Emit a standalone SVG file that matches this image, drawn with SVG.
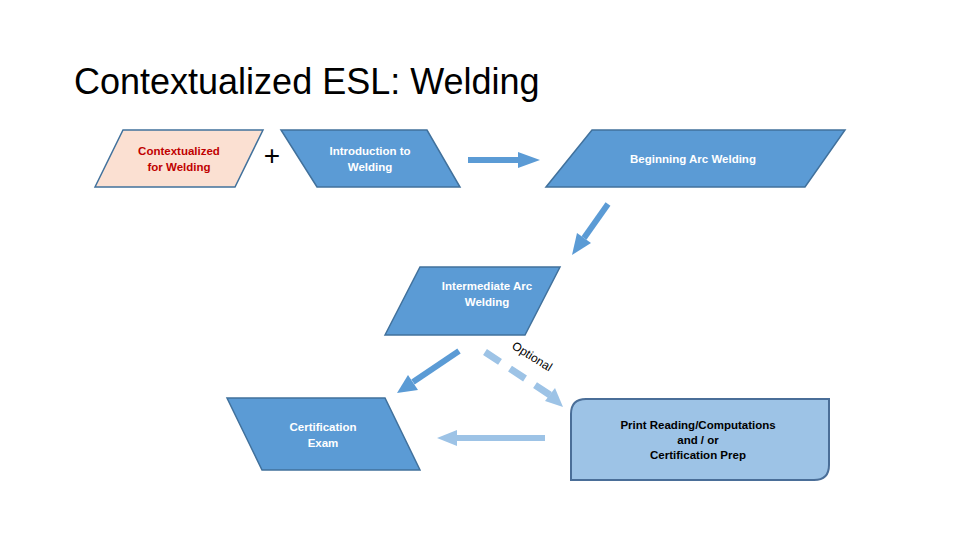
<svg xmlns="http://www.w3.org/2000/svg" width="960" height="540" viewBox="0 0 960 540">
<style>
.t{font-family:"Liberation Sans",Arial,sans-serif;font-size:11.5px;text-anchor:middle;font-weight:bold}
.w{fill:#fff}
.s{stroke:#41719c;stroke-width:1.5}
.b{fill:#5b9bd5}
</style>
<rect width="960" height="540" fill="#fff"/>
<text x="74" y="94" font-family="Liberation Sans,Arial,sans-serif" font-size="36" fill="#000">Contextualized ESL: Welding</text>
<g id="ctx"><polygon class="s" fill="#fbe0d2" points="95,187 123,130 263,130 235,187"/>
<text class="t" x="179" y="155" fill="#c00000">Contextualized</text><text class="t" x="179" y="171" fill="#c00000">for Welding</text></g>
<g id="plus"><text x="272" y="165" font-family="Liberation Sans,Arial,sans-serif" font-size="28" text-anchor="middle">+</text></g>
<g id="intro"><polygon class="s b" points="281,130 427,130 460,187 317,187"/>
<text class="t w" x="370" y="155">Introduction to</text><text class="t w" x="370" y="171">Welding</text></g>
<g id="begin"><polygon class="s b" points="546,187 592,130 845,130 805,187"/>
<text class="t w" x="693" y="163">Beginning Arc Welding</text></g>
<g id="inter"><polygon class="s b" points="385,335 420,267 560,267 525,335"/>
<text class="t w" x="487" y="290">Intermediate Arc</text><text class="t w" x="487" y="306">Welding</text></g>
<g id="cert"><polygon class="s b" points="227,398 385,398 420,470 262,470"/>
<text class="t w" x="323" y="431" font-weight="normal">Certification</text><text class="t w" x="323" y="447">Exam</text></g>
<g id="print"><path d="M586,399 H829 V465 Q829,480 814,480 H571 V414 Q571,399 586,399 Z" fill="#9dc3e6" stroke="#4a6e98" stroke-width="2"/>
<text class="t" x="698" y="429">Print Reading/Computations</text>
<text class="t" x="698" y="444" font-weight="normal">and / or</text>
<text class="t" x="698" y="459">Certification Prep</text></g>
<g id="connectors">
<line x1="468" y1="160" x2="520" y2="160" stroke="#5b9bd5" stroke-width="6"/>
<polygon points="518,152 540,160 518,168" fill="#5b9bd5"/>
<line x1="608" y1="204" x2="584" y2="238" stroke="#5b9bd5" stroke-width="6"/>
<polygon points="577,233 572,255 591,243" fill="#5b9bd5"/>
<line x1="459" y1="351" x2="413" y2="382" stroke="#5b9bd5" stroke-width="6"/>
<polygon points="408,375 397,393 418,390" fill="#5b9bd5"/>
<line x1="485" y1="352" x2="550" y2="395" stroke="#9dc3e6" stroke-width="7" stroke-dasharray="18,12"/>
<polygon points="545,401 563,407 555,388" fill="#9dc3e6"/>
<line x1="545" y1="438" x2="455" y2="438" stroke="#9dc3e6" stroke-width="6"/>
<polygon points="457,430 437,438 457,446" fill="#9dc3e6"/>
<text x="511" y="348" font-family="Liberation Sans,Arial,sans-serif" font-size="12" transform="rotate(32 511 348)">Optional</text>
</g>
</svg>
